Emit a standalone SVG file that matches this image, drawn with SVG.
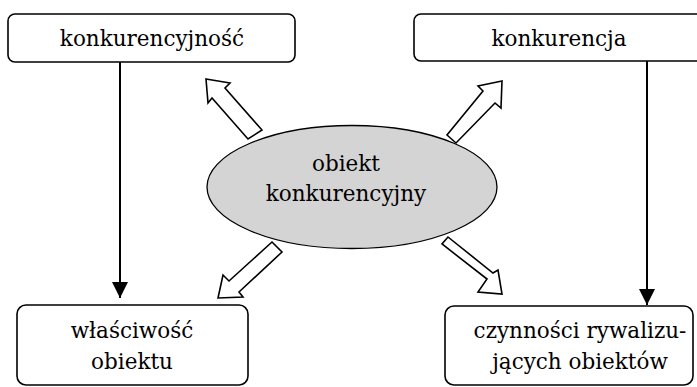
<svg xmlns="http://www.w3.org/2000/svg" width="697" height="387" viewBox="0 0 697 387">
<style>
.box{fill:#fff;stroke:#000;stroke-width:1.6}
.t{font-size:21.5px;fill:#000;text-anchor:middle}
.line{stroke:#000;stroke-width:2;fill:none}
.blk{fill:#fff;stroke:#000;stroke-width:1.6;stroke-linejoin:miter}
</style>
<defs>
<marker id="ah" viewBox="0 0 16 16" refX="16" refY="8" markerWidth="16" markerHeight="16" markerUnits="userSpaceOnUse" orient="auto">
<path d="M0,0 L16,8 L0,16 Z" fill="#000"/>
</marker>
</defs>
<rect width="697" height="387" fill="#fff"/>
<g id="connectors">
<line class="line" x1="120" y1="62" x2="120" y2="298" marker-end="url(#ah)"/>
<line class="line" x1="647" y1="61" x2="647" y2="305" marker-end="url(#ah)"/>
<polygon class="blk" points="206,79 230,83 225,88 262,130 248,139 212,98 208,103"/>
<polygon class="blk" points="502,81 478,86 483,91 447,135 456,143 495,103 501,108"/>
<polygon class="blk" points="218,298 223,275 229,281 272,242 282,252 239,292 243,297"/>
<polygon class="blk" points="448,237 493,273 498,270 502,294 478,292 487,279 442,244"/>
</g>
<g font-family="'DejaVu Serif', serif">
<g id="node-konkurencyjnosc">
<rect class="box" x="8" y="14" width="287" height="48" rx="7"/>
<text class="t" x="152" y="46">konkurencyjność</text>
</g>
<g id="node-konkurencja">
<rect class="box" x="414" y="14" width="292" height="47" rx="7"/>
<text class="t" x="559" y="46">konkurencja</text>
</g>
<g id="node-obiekt">
<ellipse cx="352" cy="187" rx="145" ry="61.5" fill="#d4d4d4" stroke="#000" stroke-width="1.3"/>
<text class="t" x="346" y="171">obiekt</text>
<text class="t" x="346" y="201">konkurencyjny</text>
</g>
<g id="node-wlasciwosc">
<rect class="box" x="17" y="305" width="231" height="80" rx="9"/>
<text class="t" x="132" y="338">właściwość</text>
<text class="t" x="132" y="369">obiektu</text>
</g>
<g id="node-czynnosci">
<rect class="box" x="445" y="306" width="248" height="79" rx="9"/>
<text class="t" x="580" y="338">czynności rywalizu-</text>
<text class="t" x="580" y="369">jących obiektów</text>
</g>
</g>
</svg>
